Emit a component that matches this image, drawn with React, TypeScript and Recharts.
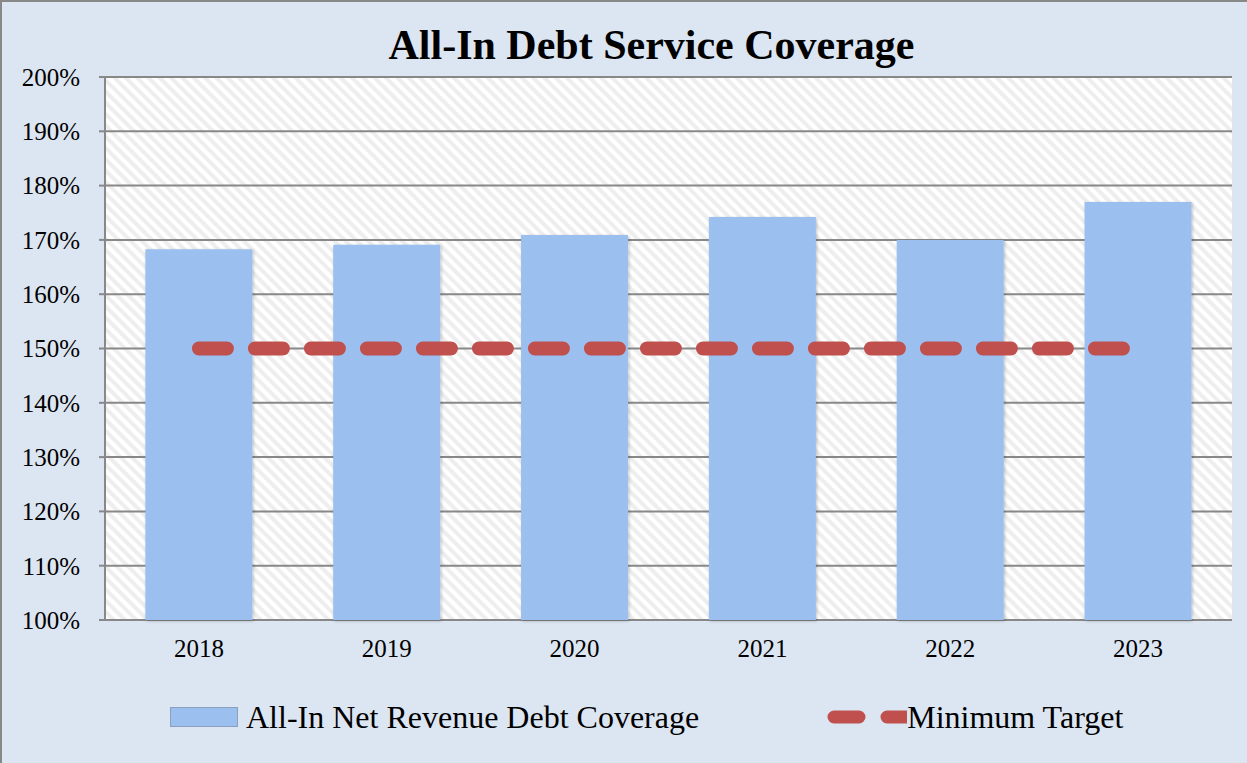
import React from 'react';
import {
  ComposedChart,
  Bar,
  Line,
  XAxis,
  YAxis,
  CartesianGrid,
  Legend,
} from 'recharts';

const years = ['2018', '2019', '2020', '2021', '2022', '2023'];
const coverage = [168.3, 169.1, 170.9, 174.2, 170.0, 177.0];
const minimumTarget = [150, 150, 150, 150, 150, 150];
const yTicks = [100, 110, 120, 130, 140, 150, 160, 170, 180, 190, 200];
const edgeTicks = [0, 1, 2, 3, 4, 5, 6];

const data = years.map((year, i) => ({
  year,
  coverage: coverage[i],
  target: minimumTarget[i],
}));

const FONT = '"Liberation Serif", "Times New Roman", serif';
const BAR_COLOR = '#9bbfef';
const LINE_COLOR = '#c0504d';
const AXIS_COLOR = '#888888';

const CustomLegend = () => (
  <div
    style={{
      display: 'flex',
      alignItems: 'center',
      height: 70,
      paddingTop: 24,
      paddingLeft: 170,
      boxSizing: 'border-box',
      fontFamily: FONT,
      fontSize: 32,
      color: '#000',
      whiteSpace: 'nowrap',
    }}
  >
    <div style={{ display: 'flex', alignItems: 'center' }}>
      <div
        style={{
          width: 68,
          height: 20,
          background: BAR_COLOR,
          border: '1px solid #8aa0bd',
          boxSizing: 'border-box',
          marginRight: 8,
        }}
      />
      <span style={{ fontFamily: FONT }}>All-In Net Revenue Debt Coverage</span>
    </div>
    <div style={{ display: 'flex', alignItems: 'center', marginLeft: 128 }}>
      <svg width={80} height={20} style={{ display: 'block' }}>
        <line
          x1={7}
          y1={10}
          x2={100}
          y2={10}
          stroke={LINE_COLOR}
          strokeWidth={13}
          strokeLinecap="round"
          strokeDasharray="25 28"
        />
      </svg>
      <span style={{ fontFamily: FONT }}>Minimum Target</span>
    </div>
  </div>
);

export default function App() {
  return (
    <div
      style={{
        position: 'absolute',
        left: 0,
        top: 0,
        width: 1247,
        height: 763,
        background: '#dce6f2',
        boxShadow: `inset 2px 2px 0 ${AXIS_COLOR}`,
        fontFamily: FONT,
      }}
    >
      <div
        style={{
          position: 'absolute',
          left: 0,
          top: 20,
          width: 1303,
          textAlign: 'center',
          fontSize: 42,
          fontWeight: 'bold',
          lineHeight: '50px',
          color: '#000',
          whiteSpace: 'nowrap',
        }}
      >
        All-In Debt Service Coverage
      </div>
      <ComposedChart
        width={1247}
        height={763}
        data={data}
        margin={{ top: 77, right: 15, bottom: 23, left: 0 }}
        barCategoryGap="21.5%"
      >
        <defs>
          <pattern
            id="hatch"
            patternUnits="userSpaceOnUse"
            width={8}
            height={8}
            patternTransform="rotate(-45)"
          >
            <rect x={0} y={0} width={8} height={8} fill="#ffffff" />
            <rect x={0} y={0} width={4} height={8} fill="#eeeeee" />
          </pattern>
          <filter id="barShadow" x="-10%" y="-10%" width="120%" height="120%">
            <feDropShadow dx={1} dy={1} stdDeviation={1.5} floodColor="#000" floodOpacity={0.25} />
          </filter>
        </defs>
        <CartesianGrid
          vertical={false}
          stroke={AXIS_COLOR}
          strokeWidth={2}
          fill="url(#hatch)"
          fillOpacity={1}
        />
        <XAxis
          xAxisId="edges"
          type="number"
          domain={[0, 6]}
          ticks={edgeTicks}
          allowDataOverflow
          tick={false}
          height={0}
          tickSize={6}
          axisLine={{ stroke: AXIS_COLOR, strokeWidth: 2 }}
          tickLine={{ stroke: AXIS_COLOR, strokeWidth: 2 }}
        />
        <XAxis
          dataKey="year"
          height={50}
          axisLine={false}
          tickLine={false}
          tickSize={6}
          tickMargin={13}
          tick={{ fill: '#000', fontSize: 25, fontFamily: FONT }}
        />
        <YAxis
          width={105}
          domain={[100, 200]}
          ticks={yTicks}
          interval={0}
          tickFormatter={(v) => `${v}%`}
          tickSize={6}
          tickMargin={19}
          axisLine={{ stroke: AXIS_COLOR, strokeWidth: 2 }}
          tickLine={{ stroke: AXIS_COLOR, strokeWidth: 2 }}
          tick={{ fill: '#000', fontSize: 25, fontFamily: FONT }}
        />
        <Legend verticalAlign="bottom" height={70} wrapperStyle={{ left: 0, width: 1247 }} content={<CustomLegend />} />
        <Bar
          dataKey="coverage"
          name="All-In Net Revenue Debt Coverage"
          fill={BAR_COLOR}
          filter="url(#barShadow)"
          isAnimationActive={false}
        />
        <Line
          dataKey="target"
          name="Minimum Target"
          stroke={LINE_COLOR}
          strokeWidth={14}
          strokeDasharray="28 28"
          strokeLinecap="round"
          dot={false}
          activeDot={false}
          isAnimationActive={false}
        />
      </ComposedChart>
    </div>
  );
}
